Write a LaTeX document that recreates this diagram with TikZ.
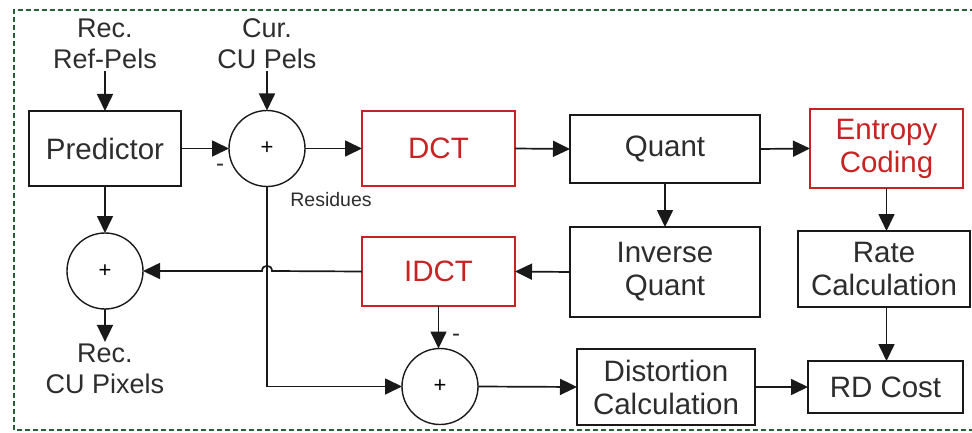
\documentclass[tikz,border=0pt]{standalone}
\usepackage{fontspec}
\setmainfont{Liberation Sans}
\usetikzlibrary{arrows.meta}
\definecolor{bgreen}{RGB}{40,95,50}
\definecolor{bred}{RGB}{200,35,35}
\definecolor{tgray}{RGB}{45,45,45}
\begin{document}
\begin{tikzpicture}[x=1pt,y=-1pt,
  box/.style={draw=black!90, line width=2.8pt, outer sep=0pt, inner sep=0pt, align=center, font=\fontsize{29.5}{33}\selectfont, text=tgray},
  redbox/.style={box, draw=bred, text=bred},
  sum/.style={circle, draw=black!90, line width=1.4pt, minimum size=76pt, inner sep=0pt, outer sep=0pt, font=\fontsize{22}{22}\selectfont},
  lbl/.style={align=center, font=\fontsize{27}{31}\selectfont, text=tgray, inner sep=2pt},
  small/.style={font=\fontsize{19.5}{19.5}\selectfont, text=tgray, inner sep=0pt},
  conn/.style={line width=1.7pt, draw=black!90, -{Triangle[length=17pt,width=16pt]}},
]
\useasboundingbox (0,0) rectangle (972,433);
\draw[bgreen, line width=2pt, dash pattern=on 5pt off 3pt] (975,10) -- (14,10) -- (14,430) -- (975,430);

\node[box, minimum width=152pt, minimum height=75pt] (pred) at (105,148.5) {Predictor};
\node[redbox, minimum width=153pt, minimum height=75pt] (dct) at (438.5,148.5) {DCT};
\node[box, minimum width=190pt, minimum height=68pt] (quant) at (665,149) {Quant};
\node[redbox, minimum width=153pt, minimum height=79pt] (ent) at (886.5,148.5) {Entropy\\Coding};
\node[box, minimum width=190pt, minimum height=90pt] (invq) at (665,272) {Inverse\\Quant};
\node[redbox, minimum width=153pt, minimum height=69pt] (idct) at (438.5,271.5) {IDCT};
\node[box, minimum width=172pt, minimum height=76pt] (rate) at (884,269) {Rate\\Calculation};
\node[box, minimum width=178pt, minimum height=76pt] (dist) at (666,387) {Distortion\\Calculation};
\node[box, minimum width=155pt, minimum height=52pt] (rd) at (885.5,387) {RD Cost};

\node[sum] (s1) at (267,148.5) {+};
\node[sum] (s2) at (105,271) {+};
\node[sum] (s3) at (440,386.5) {+};

\node[lbl] (recref) at (105,44) {Rec.\\Ref-Pels};
\node[lbl] (curpels) at (267,44) {Cur.\\CU Pels};
\node[lbl] (reccu) at (105,369) {Rec.\\CU Pixels};
\node[small] (res) at (331,200) {Residues};
\node[small, font=\fontsize{24}{24}\selectfont] (m1) at (220,168) {-};
\node[small, font=\fontsize{24}{24}\selectfont] (m2) at (456,338) {-};

\draw[conn] (recref.south) -- (pred.north);
\draw[conn] (curpels.south) -- (s1.north);
\draw[conn] (pred.east) -- (s1.west);
\draw[conn] (s1.east) -- (dct.west);
\draw[conn] (dct.east) -- (quant.west);
\draw[conn] (quant.east) -- (ent.west);
\draw[conn] (quant.south) -- (invq.north);
\draw[conn] (ent.south) -- (ent.south |- rate.north);
\draw[conn] (ent.south |- rate.south) -- (ent.south |- rd.north);
\draw[conn] (invq.west) -- (idct.east);
\draw[conn] (idct.west) -- (272,271) .. controls (272,264) and (262,264) .. (262,271) -- (s2.east);
\draw[conn] (pred.south) -- (s2.north);
\draw[conn] (s2.south) -- (reccu.north);
\draw[conn] (s1.south) -- (s1.south |- s3.west) -- (s3.west);
\draw[conn] (idct.south) -- (idct.south |- s3.north);
\draw[conn] (s3.east) -- (dist.west);
\draw[conn] (dist.east) -- (rd.west);
\end{tikzpicture}
\end{document}
